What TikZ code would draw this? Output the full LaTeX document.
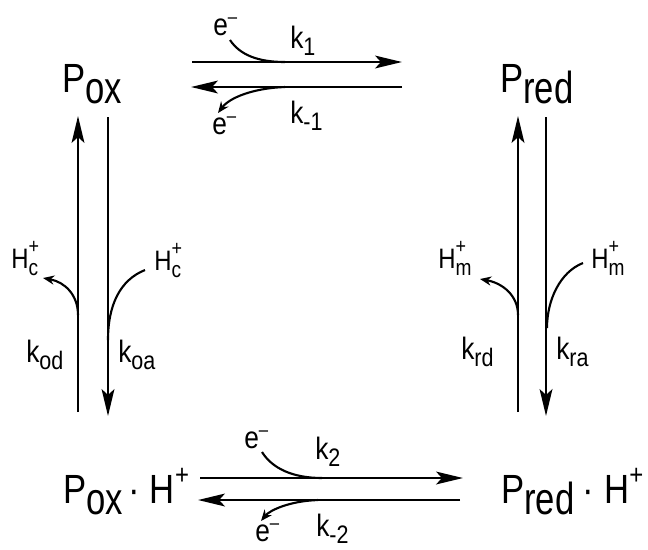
\documentclass[tikz,border=0pt]{standalone}
\usepackage{fontspec}
\setmainfont{Liberation Sans}[FakeStretch=0.85]
\usetikzlibrary{arrows.meta}
% species subscript, tall lowercase as in the lettering
\newcommand{\low}[1]{\raisebox{-8pt}{\scalebox{1}[1.1]{#1}}}
\newcommand{\fs}[1]{\fontsize{#1}{#1}\selectfont}
\newcommand{\rate}[1]{k\raisebox{-5pt}{\fs{18}#1}}
\newcommand{\elec}{e\raisebox{8pt}{\fs{14}–}}
\newcommand{\prot}[1]{H\makebox[0pt][l]{\raisebox{10pt}{\fs{15}+}}\raisebox{-5pt}{\fs{16}#1}}
\newcommand{\hplus}{H\raisebox{13pt}{\fs{20}+}}
\begin{document}
\begin{tikzpicture}[x=0.025cm, y=-0.025cm,
    species/.style={anchor=base west, inner sep=0pt, font=\fs{29}},
    lbl/.style={anchor=base west, inner sep=0pt, font=\fs{22}},
    hlbl/.style={anchor=base west, inner sep=0pt, font=\fs{20}},
    rxn/.style={line width=2.1pt, -{Stealth[length=19pt, width=9pt, inset=4pt]}},
    side/.style={line width=1.5pt},
    sidearr/.style={side, -{Stealth[length=8pt, width=6.5pt]}}]
    \useasboundingbox (0,0) rectangle (648,549);
    % species
    \node[species] (pox) at (62,92) {P\low{ox}};
    \node[species] (pred) at (500,92) {P\low{red}};
    \node[species] (poxh) at (63,503) {P\low{ox}\hspace{4pt}·\hspace{7pt}\hplus};
    \node[species] (predh) at (501,503) {P\low{red}\hspace{6pt}·\hspace{7pt}\hplus};
    % labels
    \node[lbl] (e1) at (213,35) {\elec};
    \node[lbl] (k1) at (290,48) {\rate{1}};
    \node[lbl] (e2) at (212,134) {\elec};
    \node[lbl] (km1) at (290,123) {\rate{-1}};
    \node[lbl] (e3) at (244,448) {\elec};
    \node[lbl] (k2) at (315,459) {\rate{2}};
    \node[lbl] (e4) at (255,541) {\elec};
    \node[lbl] (km2) at (316,536) {\rate{-2}};
    \node[hlbl] (hcl) at (11,268) {\prot{c}};
    \node[hlbl] (hcr) at (154,270) {\prot{c}};
    \node[hlbl] (hml) at (438,268) {\prot{m}};
    \node[hlbl] (hmr) at (591,268) {\prot{m}};
    \node[lbl] (kod) at (26,362) {\rate{od}};
    \node[lbl] (koa) at (118,362) {\rate{oa}};
    \node[lbl] (krd) at (461,359) {\rate{rd}};
    \node[lbl] (kra) at (556,359) {\rate{ra}};
    % arrow ends
    \coordinate (t1) at (192,62);  \coordinate (t2) at (402,62);
    \coordinate (t3) at (402,87);  \coordinate (t4) at (191,87);
    \coordinate (b1) at (200,478); \coordinate (b2) at (463,478);
    \coordinate (b3) at (460,500); \coordinate (b4) at (198,500);
    \coordinate (l1) at (78,412);  \coordinate (l2) at (78,116);
    \coordinate (l3) at (108,117); \coordinate (l4) at (108,416);
    \coordinate (r1) at (518,412); \coordinate (r2) at (518,116);
    \coordinate (r3) at (546,117); \coordinate (r4) at (546,416);
    % main arrows
    \draw[rxn] (t1) -- (t2);
    \draw[rxn] (t3) -- (t4);
    \draw[rxn] (b1) -- (b2);
    \draw[rxn] (b3) -- (b4);
    \draw[rxn] (l1) -- (l2);
    \draw[rxn] (l3) -- (l4);
    \draw[rxn] (r1) -- (r2);
    \draw[rxn] (r3) -- (r4);
    % side arcs
    \draw[side] (230,40) .. controls (240,55) and (258,62) .. (285,62);
    \draw[sidearr] (285,87) .. controls (255,88) and (230,97) .. (218,113);
    \draw[side] (262,452) .. controls (272,468) and (292,478) .. (322,478);
    \draw[sidearr] (318,500) .. controls (290,501) and (270,510) .. (261,521);
    \draw[sidearr] (78,315) .. controls (78,295) and (65,282) .. (43,278);
    \draw[side] (145,270) .. controls (120,280) and (108,305) .. (108,340);
    \draw[sidearr] (518,315) .. controls (518,295) and (502,283) .. (480,279);
    \draw[side] (583,263) .. controls (560,272) and (547,300) .. (547,328);
\end{tikzpicture}
\end{document}
